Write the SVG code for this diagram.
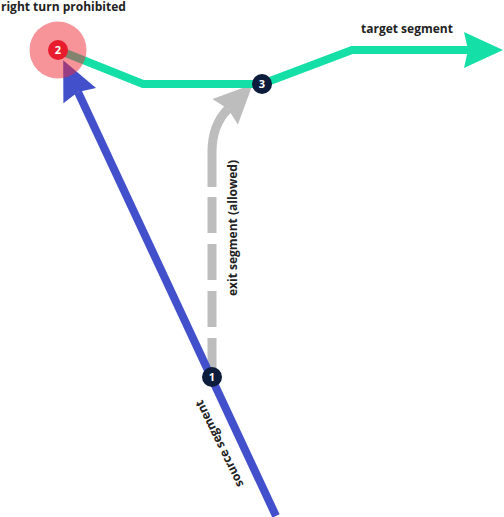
<svg xmlns="http://www.w3.org/2000/svg" width="504" height="517" viewBox="0 0 504 517">
<style>
.lbl{font-family:"Open Sans","Liberation Sans",sans-serif;font-weight:700;font-size:12px;fill:#222}
.num{font-family:"Open Sans","Liberation Sans",sans-serif;font-weight:700;font-size:11px;fill:#fff;text-anchor:middle}
.badge{fill:#0c1c3a}
</style>
<defs>
<marker id="ahGray" markerUnits="userSpaceOnUse" markerWidth="40" markerHeight="40" refX="4" refY="20" orient="auto" overflow="visible"><path d="M39,20 L0,2 L4,20 L0,38 Z" fill="#bdbdbd"/></marker>
<marker id="ahBlue" markerUnits="userSpaceOnUse" markerWidth="40" markerHeight="40" refX="4" refY="20" orient="auto" overflow="visible"><path d="M39,20 L0,2 L4,20 L0,38 Z" fill="#4350cc"/></marker>
<marker id="ahGreen" markerUnits="userSpaceOnUse" markerWidth="40" markerHeight="40" refX="4" refY="20" orient="auto" overflow="visible"><path d="M39,20 L0,2 L4,20 L0,38 Z" fill="#14dfa6"/></marker>
</defs>
<g id="connectors" fill="none">
<path id="exit" d="M212,197 L212,376" stroke="#bdbdbd" stroke-width="9" stroke-dasharray="36 11"/>
<path id="exit-head" d="M212,187 L212,152 Q212,125 228,109" stroke="#bdbdbd" stroke-width="9" marker-end="url(#ahGray)"/>
<path id="source" d="M276,516 L78,92" stroke="#4350cc" stroke-width="8" marker-end="url(#ahBlue)"/>
<path id="target" d="M58,50 L143,84 L262,84 L352,50 L468,50" stroke="#14dfa6" stroke-width="8" stroke-linejoin="miter" marker-end="url(#ahGreen)"/>
</g>
<g id="node2">
<circle cx="58" cy="50" r="28.5" fill="#ee2a36" fill-opacity="0.5"/>
<circle cx="58" cy="50" r="10" fill="#e81c2c"/>
<text class="num" x="58" y="54">2</text>
</g>
<g id="node1">
<circle class="badge" cx="212" cy="377" r="10"/>
<text class="num" x="212" y="381">1</text>
</g>
<g id="node3">
<circle class="badge" cx="262" cy="84" r="10"/>
<text class="num" x="262" y="88">3</text>
</g>
<g id="labels">
<text class="lbl" x="1" y="11">right turn prohibited</text>
<text class="lbl" x="361" y="33">target segment</text>
<text class="lbl" text-anchor="middle" transform="translate(237,228) rotate(-90)">exit segment (allowed)</text>
<text class="lbl" text-anchor="middle" transform="translate(223,442) rotate(244)">source segment</text>
</g>
</svg>
